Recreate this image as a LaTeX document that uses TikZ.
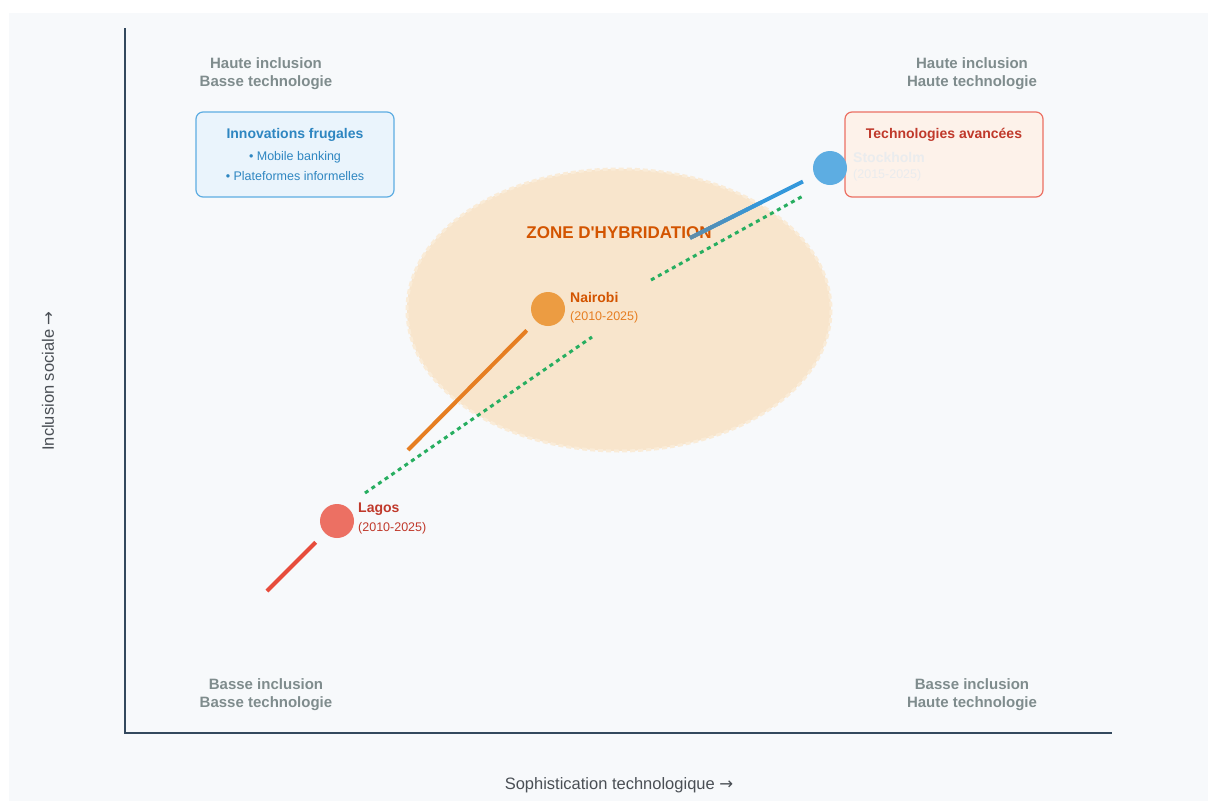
\documentclass[tikz,border=0pt]{standalone}
\usepackage{fontspec}
\setmainfont{Liberation Sans}[Ligatures=TeXOff]
\newfontfamily\arrowfont{DejaVu Sans}
\usetikzlibrary{calc}
\definecolor{panel}{RGB}{247,249,251}
\definecolor{axis}{HTML}{34495E}
\definecolor{cornergray}{HTML}{7F8C8D}
\definecolor{labelgray}{HTML}{4A4F55}
\definecolor{frugalfill}{RGB}{234,244,252}
\definecolor{frugalline}{HTML}{5DADE2}
\definecolor{frugaltext}{HTML}{2E86C1}
\definecolor{avfill}{RGB}{253,242,234}
\definecolor{avline}{HTML}{EC7063}
\definecolor{avtext}{HTML}{C0392B}
\definecolor{zonefill}{RGB}{248,229,204}
\definecolor{zoneedge}{RGB}{250,236,216}
\definecolor{zonetext}{HTML}{D35400}
\definecolor{lagosred}{HTML}{EC7063}
\definecolor{trailred}{HTML}{E74C3C}
\definecolor{nairobiorange}{RGB}{236,156,66}
\definecolor{trailorange}{HTML}{E67E22}
\definecolor{stoblue}{HTML}{5DADE2}
\definecolor{trailblue}{HTML}{3498DB}
\definecolor{trailslate}{RGB}{95,140,168}
\definecolor{hybridgreen}{HTML}{27AE60}
\definecolor{ghost}{RGB}{234,236,238}

\begin{document}
\begin{tikzpicture}[x=1pt,y=-1pt,
    corner/.style={text=cornergray, font=\bfseries\fontsize{15}{18}\selectfont, align=center},
    axislabel/.style={text=labelgray, font=\fontsize{16.5}{19}\selectfont},
    city/.style={circle, minimum size=34pt, inner sep=0pt},
    cityname/.style={anchor=west, inner sep=0pt, font=\bfseries\fontsize{14}{16}\selectfont},
    citydate/.style={anchor=west, inner sep=0pt, font=\fontsize{12.5}{14}\selectfont},
    trail/.style={line width=4pt, shorten >=13pt},
    hybrid/.style={hybridgreen, line width=3pt, dash pattern=on 4pt off 4pt},
    card/.style={draw, rounded corners=7pt, line width=1.2pt, minimum width=198pt, minimum height=85pt, inner sep=0pt},
    cardtitle/.style={font=\bfseries\fontsize{14}{16}\selectfont},
    bullet/.style={text=frugaltext, font=\fontsize{12.5}{14}\selectfont}]
    % Page and panel
    \fill[white] (0,0) rectangle (1208,801);
    \fill[panel] (9,13) rectangle (1208,801);
    \useasboundingbox (0,0) rectangle (1208,801);
    % Draw the axes
    \draw[axis, line width=2.6pt] (125,28) -- (125,733) -- (1112,733);
    \node[axislabel, rotate=90] (ylab) at (48,381) {Inclusion sociale {\arrowfont →}};
    \node[axislabel] (xlab) at (619,785) {Sophistication technologique {\arrowfont →}};
    % Quadrant labels
    \node[corner] (hibt) at (266,74) {Haute inclusion\\Basse technologie};
    \node[corner] (hiht) at (972,74) {Haute inclusion\\Haute technologie};
    \node[corner] (bibt) at (266,695) {Basse inclusion\\Basse technologie};
    \node[corner] (biht) at (972,695) {Basse inclusion\\Haute technologie};
    % Hybridisation zone
    \draw[zoneedge, fill=zonefill, line width=3pt, dash pattern=on 5pt off 3pt] (619,310) ellipse (212 and 141);
    \node[text=zonetext, font=\bfseries\fontsize{17}{20}\selectfont] (zone) at (619,233) {ZONE D'HYBRIDATION};
    % The two cards
    \node[card, draw=frugalline, fill=frugalfill] (frugal) at (295,154.5) {};
    \node[cardtitle, text=frugaltext] (frugaltitle) at (295,135) {Innovations frugales};
    \node[bullet] (frugalone) at (295,157) {• Mobile banking};
    \node[bullet] (frugaltwo) at (295,176) {• Plateformes informelles};
    \node[card, draw=avline, fill=avfill] (avance) at (944,154.5) {};
    \node[cardtitle, text=avtext] (avtitle) at (944,135) {Technologies avancées};
    % The cities
    \node[city, fill=lagosred] (lagos) at (337,521) {};
    \node[city, fill=nairobiorange] (nairobi) at (548,309) {};
    \node[city, fill=stoblue] (stockholm) at (830,168) {};
    % Trails towards each city
    \coordinate (lagos0) at (267,591);
    \coordinate (nairobi0) at (408,450);
    \coordinate (sto0) at (690,238);
    \draw[trail, trailred] (lagos0) -- (lagos);
    \draw[trail, trailorange] (nairobi0) -- (nairobi);
    \draw[trail, trailblue] (sto0) -- (stockholm);
    \foreach \i in {0,...,9}{
        \pgfmathtruncatemacro\p{\i*10+5}
        \draw[line width=4pt, trailblue!\p!trailslate] ($(sto0)!\i/20!(stockholm)$) -- ($(sto0)!{(\i+1.2)/20}!(stockholm)$);
    }
    % Hybrid path
    \coordinate (h1) at (365,493);
    \coordinate (h2) at (592,337);
    \coordinate (h3) at (651,280);
    \coordinate (h4) at (803,196);
    \draw[hybrid] (h1) -- (h2);
    \draw[hybrid] (h3) -- (h4);
    % City labels
    \node[cityname, text=avtext] (lagosname) at (358,509) {Lagos};
    \node[citydate, text=avtext] (lagosdate) at (358,528) {(2010-2025)};
    \node[cityname, text=zonetext] (nairobiname) at (570,297) {Nairobi};
    \node[citydate, text=trailorange] (nairobidate) at (570,317) {(2010-2025)};
    \node[cityname, text=ghost] (stoname) at (853,157) {Stockholm};
    \node[citydate, text=ghost] (stodate) at (853,175) {(2015-2025)};
\end{tikzpicture}
\end{document}
